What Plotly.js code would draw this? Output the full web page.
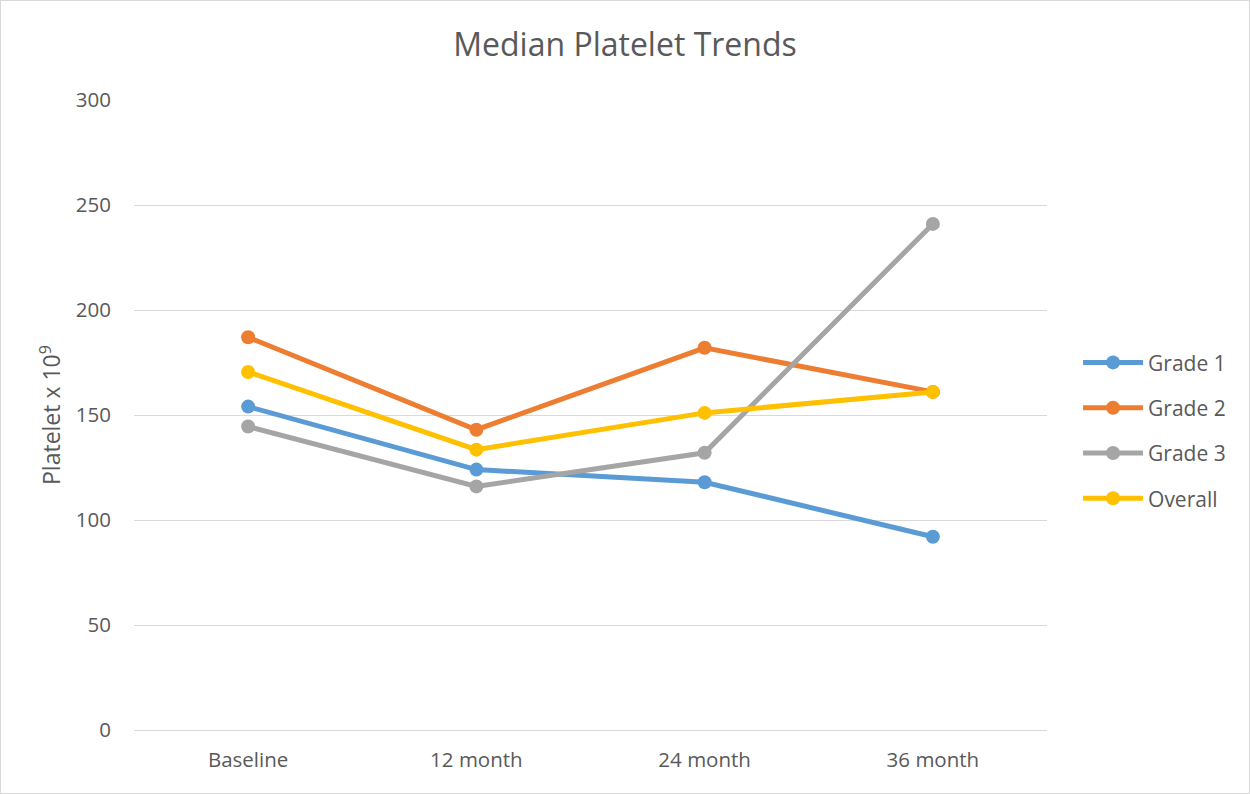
<!DOCTYPE html>
<html>
<head>
<meta charset="utf-8">
<script src="https://cdn.plot.ly/plotly-3.0.1.min.js"></script>
<style>
  html, body { margin: 0; padding: 0; background: #ffffff; }
  #chart { width: 1250px; height: 794px; box-sizing: border-box; border: 1px solid #d9d9d9; }
</style>
</head>
<body>
<div id="chart"></div>
<script>
// Timepoints along the x axis
const timepoints = ['Baseline', '12 month', '24 month', '36 month'];

// Median platelet counts (x 10^9) per grade
const grade1 = [154, 124, 118, 92];
const grade2 = [187, 143, 182, 161];
const grade3 = [144.5, 116, 132, 241];
const overall = [170.5, 133.5, 151, 161];

const seriesNames = ['Grade 1', 'Grade 2', 'Grade 3', 'Overall'];
const seriesColors = ['#5B9BD5', '#ED7D31', '#A5A5A5', '#FFC000'];
const seriesValues = [grade1, grade2, grade3, overall];

const textColor = '#595959';
const fontFamily = '"Open Sans", "Noto Sans", sans-serif';

const traces = seriesValues.map((vals, i) => ({
  type: 'scatter',
  mode: 'lines+markers',
  name: seriesNames[i],
  x: timepoints,
  y: vals,
  legendgroup: 'g' + i,
  line: { color: seriesColors[i], width: 5 },
  marker: { color: seriesColors[i], size: 14 },
  hoverinfo: 'x+y+name'
}));

const layout = {
  width: 1248,
  height: 792,
  margin: { l: 133, r: 202, t: 99, b: 63 },
  paper_bgcolor: '#ffffff',
  plot_bgcolor: '#ffffff',
  font: { family: fontFamily, color: textColor, size: 20.5 },
  title: {
    text: 'Median Platelet Trends',
    font: { family: fontFamily, size: 32, color: textColor },
    x: 0.5,
    xanchor: 'center',
    y: 0.945,
    yanchor: 'middle'
  },
  xaxis: {
    type: 'category',
    range: [-0.5, 3.5],
    showgrid: false,
    showline: true,
    linecolor: '#d9d9d9',
    linewidth: 1,
    ticks: 'outside',
    ticklen: 11,
    tickcolor: 'rgba(0,0,0,0)',
    tickfont: { family: fontFamily, size: 20.5, color: textColor },
    fixedrange: true
  },
  yaxis: {
    range: [0, 300],
    dtick: 50,
    showgrid: true,
    gridcolor: '#d9d9d9',
    gridwidth: 1,
    zeroline: false,
    showline: false,
    ticks: 'outside',
    ticklen: 18,
    tickcolor: 'rgba(0,0,0,0)',
    tickfont: { family: fontFamily, size: 20.5, color: textColor },
    title: {
      text: 'Platelet x 10<sup>9</sup>',
      font: { family: fontFamily, size: 23, color: textColor },
      standoff: 8
    },
    fixedrange: true
  },
  legend: {
    x: 1.034,
    xanchor: 'left',
    y: 0.475,
    yanchor: 'middle',
    traceorder: 'grouped',
    tracegroupgap: 15,
    itemwidth: 60,
    font: { family: fontFamily, size: 21, color: textColor },
    bgcolor: 'rgba(0,0,0,0)'
  },
  showlegend: true
};

Plotly.newPlot('chart', traces, layout, { displayModeBar: false });
</script>
</body>
</html>
